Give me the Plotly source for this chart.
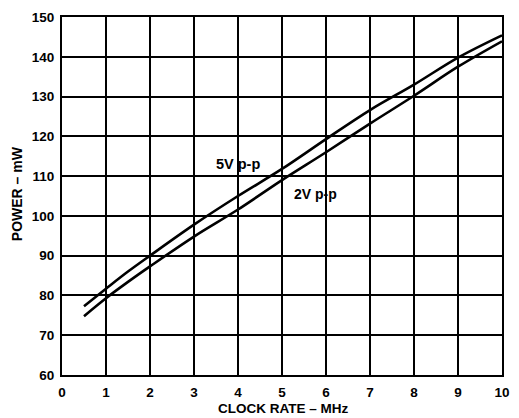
import plotly.graph_objects as go

# Clock rate (MHz) and supply power (mW) for two input swings
clock_mhz = [0.5, 1, 1.5, 2, 3, 4, 5, 6, 7, 8, 9, 10]
power_5v = [77.3, 81.7, 86.0, 90.0, 97.8, 105.0, 111.8, 119.3, 126.6, 133.0, 139.8, 145.4]
power_2v = [74.8, 79.3, 83.4, 87.3, 94.8, 101.6, 109.0, 116.0, 123.2, 130.2, 137.5, 143.9]

x_ticks = [0, 1, 2, 3, 4, 5, 6, 7, 8, 9, 10]
y_ticks = [60, 70, 80, 90, 100, 110, 120, 130, 140, 150]

FONT = "Liberation Sans, Arial, sans-serif"

fig = go.Figure()
for ys in (power_5v, power_2v):
    fig.add_trace(go.Scatter(
        x=clock_mhz, y=ys, mode="lines",
        line=dict(color="black", width=2.6, shape="spline", smoothing=1.0),
        showlegend=False, hoverinfo="skip",
    ))

# Curve labels
fig.add_annotation(x=4.0, y=113.0, text="<b>5V p-p</b>", showarrow=False,
                   font=dict(family=FONT, size=14.5, color="black"))
fig.add_annotation(x=5.75, y=105.5, text="<b>2V p-p</b>", showarrow=False,
                   font=dict(family=FONT, size=14, color="black"))

# Axis titles
fig.add_annotation(x=0.503, y=0, xref="paper", yref="paper", yanchor="middle",
                   xanchor="center", yshift=-33, text="<b>CLOCK RATE – MHz</b>",
                   showarrow=False, font=dict(family=FONT, size=13.5, color="black"))
fig.add_annotation(x=0, y=0.505, xref="paper", yref="paper", xanchor="center",
                   yanchor="middle", xshift=-45, textangle=-90,
                   text="<b>POWER – mW</b>", showarrow=False,
                   font=dict(family=FONT, size=14, color="black"))

axis_common = dict(
    showgrid=True, gridcolor="black", gridwidth=1.6,
    showline=True, linecolor="black", linewidth=2.2, mirror=True,
    zeroline=False, ticks="outside", tickcolor="rgba(0,0,0,0)",
    tickfont=dict(family=FONT, size=13.5, color="black"),
    fixedrange=True,
)

fig.update_xaxes(range=[0, 10], tickvals=x_ticks,
                 ticktext=[f"<b>{v}</b>" for v in x_ticks],
                 ticklen=4, **axis_common)
fig.update_yaxes(range=[60, 150], tickvals=y_ticks,
                 ticktext=[f"<b>{v}</b>" for v in y_ticks],
                 ticklen=3, **axis_common)

fig.update_layout(
    width=519, height=418,
    margin=dict(l=62, r=9, t=17, b=43),
    paper_bgcolor="white", plot_bgcolor="white",
    font=dict(family=FONT, color="black"),
)

fig.write_html("out.html")
